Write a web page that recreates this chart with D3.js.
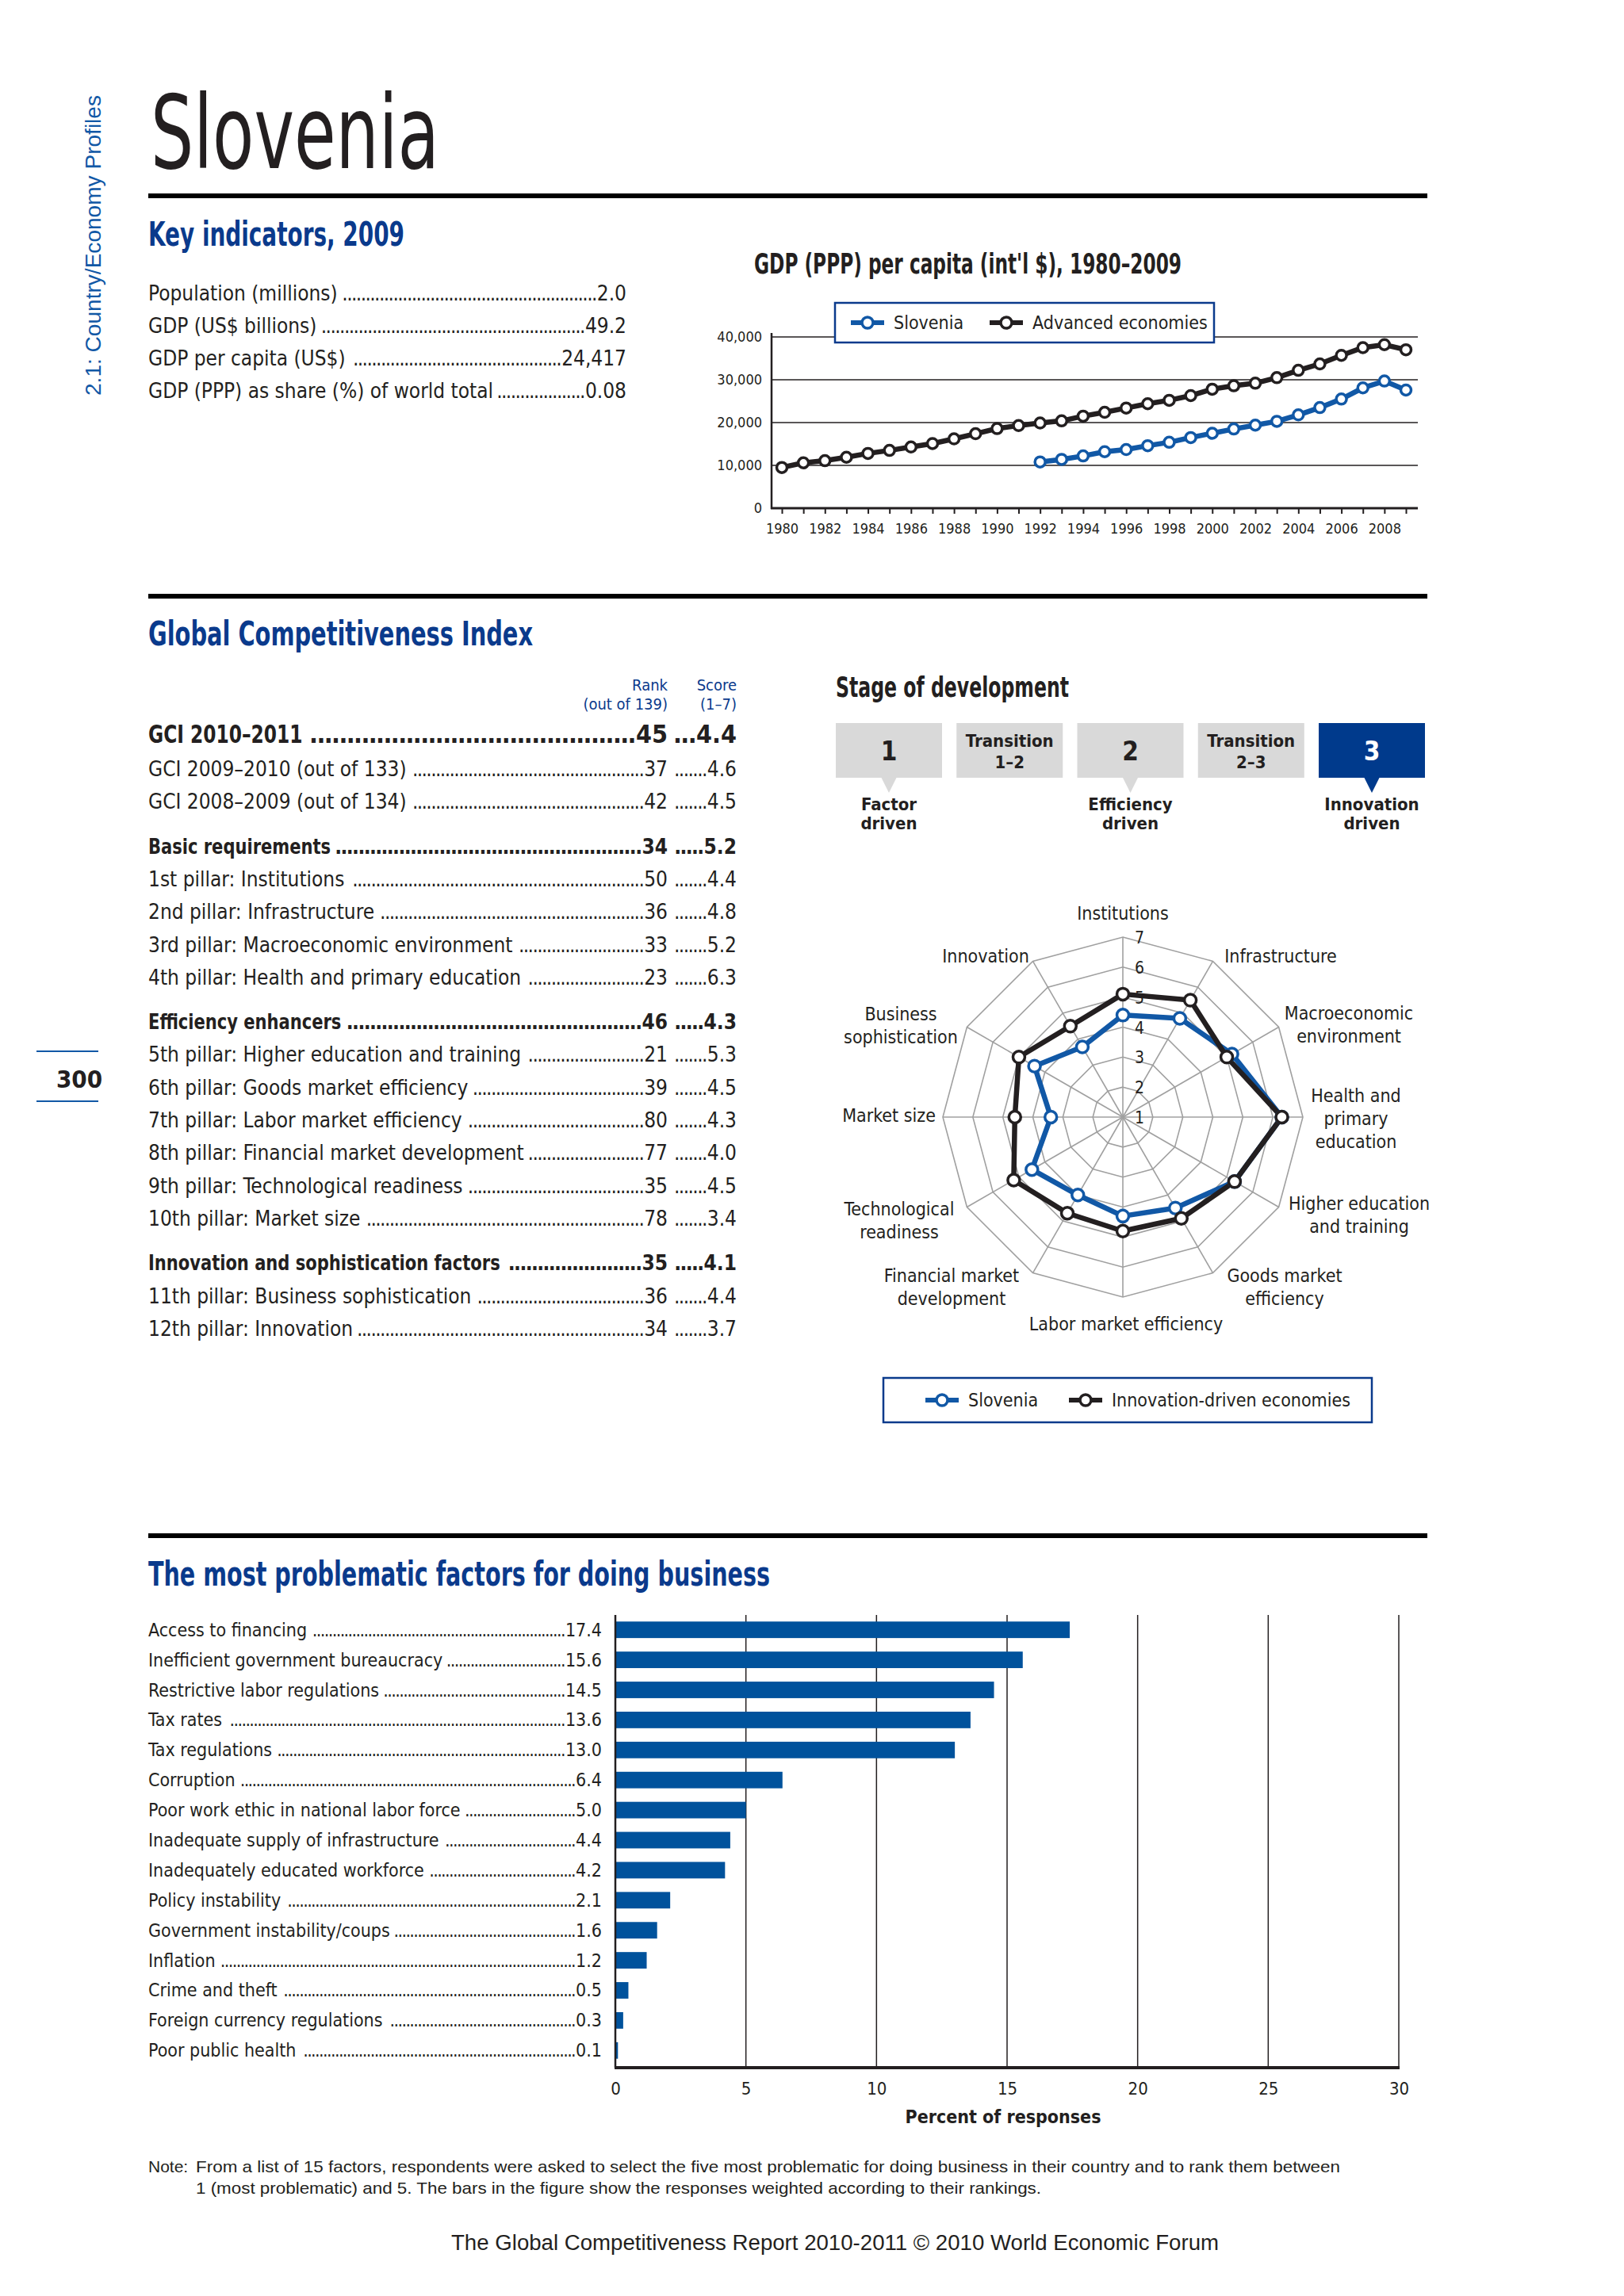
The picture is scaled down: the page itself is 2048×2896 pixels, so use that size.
<!DOCTYPE html>
<html>
<head>
<meta charset="utf-8">
<script src="https://cdn.jsdelivr.net/npm/d3@7"></script>
<style>
  body { margin: 0; background: #fff; }
  svg text { font-family: "Liberation Sans Narrow", "Arial Narrow", "DejaVu Sans Condensed", sans-serif; }
</style>
</head>
<body>
<svg id="page"></svg>
<script>
// ---- Key indicators ----
const keyLabels = ["Population (millions)", "GDP (US$ billions)", "GDP per capita (US$)", "GDP (PPP) as share (%) of world total"];
const keyValues = ["2.0", "49.2", "24,417", "0.08"];

// ---- GDP (PPP) per capita ----
const gdpYears = [1980, 1981, 1982, 1983, 1984, 1985, 1986, 1987, 1988, 1989,
                  1990, 1991, 1992, 1993, 1994, 1995, 1996, 1997, 1998, 1999,
                  2000, 2001, 2002, 2003, 2004, 2005, 2006, 2007, 2008, 2009];
const advancedGdp = [9500, 10600, 11100, 11900, 12800, 13500, 14300, 15100, 16200, 17400,
                     18600, 19300, 19900, 20400, 21500, 22400, 23400, 24400, 25200, 26300,
                     27800, 28600, 29200, 30500, 32200, 33700, 35700, 37500, 38200, 37000];
const sloveniaYears = [1992, 1993, 1994, 1995, 1996, 1997, 1998, 1999, 2000,
                       2001, 2002, 2003, 2004, 2005, 2006, 2007, 2008, 2009];
const sloveniaGdp = [10800, 11400, 12200, 13200, 13700, 14600, 15400, 16500, 17500,
                     18500, 19400, 20300, 21800, 23500, 25500, 28100, 29700, 27600];
const gdpTicks = [0, 10000, 20000, 30000, 40000];
const gdpSeries = ["Slovenia", "Advanced economies"];

// ---- GCI table ----
const gciLabels = ["GCI 2010–2011", "GCI 2009–2010 (out of 133)", "GCI 2008–2009 (out of 134)",
  "Basic requirements", "1st pillar: Institutions", "2nd pillar: Infrastructure",
  "3rd pillar: Macroeconomic environment", "4th pillar: Health and primary education",
  "Efficiency enhancers", "5th pillar: Higher education and training", "6th pillar: Goods market efficiency",
  "7th pillar: Labor market efficiency", "8th pillar: Financial market development",
  "9th pillar: Technological readiness", "10th pillar: Market size",
  "Innovation and sophistication factors", "11th pillar: Business sophistication", "12th pillar: Innovation"];
const gciRanks = ["45", "37", "42", "34", "50", "36", "33", "23", "46", "21", "39", "80", "77", "35", "78", "35", "36", "34"];
const gciScores = ["4.4", "4.6", "4.5", "5.2", "4.4", "4.8", "5.2", "6.3", "4.3", "5.3", "4.5", "4.3", "4.0", "4.5", "3.4", "4.1", "4.4", "3.7"];
const gciSummaryRows = [0, 3, 8, 15];

// ---- Stage of development ----
const stageBoxes = [["1"], ["Transition", "1–2"], ["2"], ["Transition", "2–3"], ["3"]];
const stageNames = [["Factor", "driven"], [], ["Efficiency", "driven"], [], ["Innovation", "driven"]];
const currentStage = 4;

// ---- Radar ----
const pillars = [["Institutions"], ["Infrastructure"], ["Macroeconomic", "environment"],
  ["Health and", "primary", "education"], ["Higher education", "and training"], ["Goods market", "efficiency"],
  ["Labor market efficiency"], ["Financial market", "development"], ["Technological", "readiness"],
  ["Market size"], ["Business", "sophistication"], ["Innovation"]];
const sloveniaScores = [4.4, 4.8, 5.2, 6.3, 5.3, 4.5, 4.3, 4.0, 4.5, 3.4, 4.4, 3.7];
const innovationScores = [5.1, 5.5, 5.0, 6.3, 5.3, 4.9, 4.8, 4.7, 5.2, 4.6, 5.0, 4.5];
const radarTicks = [1, 2, 3, 4, 5, 6, 7];
const radarSeries = ["Slovenia", "Innovation-driven economies"];

// ---- Most problematic factors ----
const factorLabels = ["Access to financing", "Inefficient government bureaucracy", "Restrictive labor regulations",
  "Tax rates", "Tax regulations", "Corruption", "Poor work ethic in national labor force",
  "Inadequate supply of infrastructure", "Inadequately educated workforce", "Policy instability",
  "Government instability/coups", "Inflation", "Crime and theft", "Foreign currency regulations", "Poor public health"];
const factorValues = [17.4, 15.6, 14.5, 13.6, 13.0, 6.4, 5.0, 4.4, 4.2, 2.1, 1.6, 1.2, 0.5, 0.3, 0.1];
const barTicks = [0, 5, 10, 15, 20, 25, 30];

// ---------------------------------------------------------------
const ink = "#231f20", headBlue = "#0a3a8c", lineBlue = "#1158a6", barBlue = "#00529c";
const WIDE = '"Liberation Sans", Arial, sans-serif';

const svg = d3.select("#page").attr("width", 2048).attr("height", 2896);
svg.append("rect").attr("width", 2048).attr("height", 2896).attr("fill", "#fff");

function text(g, x, y, s, o = {}) {
  const t = g.append("text").attr("x", x).attr("y", y).text(s)
    .attr("font-size", o.size || 26).attr("fill", o.fill || ink)
    .attr("font-weight", o.weight || "normal").attr("text-anchor", o.anchor || "start");
  if (o.family) t.style("font-family", o.family);
  if (o.len) t.attr("textLength", o.len).attr("lengthAdjust", "spacingAndGlyphs");
  return t;
}

// label ..... value, dots filling the gap
function leader(g, x0, x1, y, label, value, o = {}) {
  const row = g.append("g").attr("font-size", o.size || 26).attr("font-weight", o.weight || "normal").attr("fill", ink);
  let lw = 0;
  if (label) {
    const sq = o.squeeze || 1;
    const lab = row.append("text").attr("transform", `translate(${x0},${y}) scale(${sq},1)`).text(label);
    lw = lab.node().getComputedTextLength() * sq;
  }
  const val = row.append("text").attr("x", x1).attr("y", y).attr("text-anchor", "end").text(value);
  const dots = row.append("text").attr("y", y).attr("text-anchor", "end").attr("letter-spacing", -1.6).text("..");
  const dw = dots.node().getComputedTextLength() / 2;
  const start = x0 + (label ? lw + 4 : 0);
  const end = x1 - val.node().getComputedTextLength() - 1;
  dots.attr("x", end).text(".".repeat(Math.max(0, Math.floor((end - start) / dw))));
}

// ---- page furniture ----
text(svg, 127, 499, "2.1: Country/Economy Profiles", {size: 27, fill: lineBlue, family: WIDE, len: 379})
  .attr("transform", "rotate(-90,127,499)");
text(svg, 190, 212, "Slovenia", {size: 128, len: 364});
[247, 752, 1937].forEach(y => svg.append("rect").attr("x", 187).attr("y", y - 3).attr("width", 1613).attr("height", 6).attr("fill", "#000"));
[1326, 1389].forEach(y => svg.append("line").attr("x1", 46).attr("x2", 124).attr("y1", y).attr("y2", y).attr("stroke", lineBlue).attr("stroke-width", 2));
text(svg, 100, 1372, "300", {size: 31, weight: "bold", anchor: "middle"});

// ---- Key indicators ----
text(svg, 187, 310, "Key indicators, 2009", {size: 42, weight: "bold", fill: headBlue, len: 323});
keyLabels.forEach((l, i) => leader(svg, 187, 790, 379 + i * 41, l, keyValues[i], {size: 26}));

// ---- GDP chart ----
text(svg, 951, 345, "GDP (PPP) per capita (int'l $), 1980–2009", {size: 36, weight: "bold", len: 539});
const gx = d3.scaleLinear().domain([1980, 2009]).range([986, 1773]);
const gy = d3.scaleLinear().domain([0, 40000]).range([641, 425]);
const gdp = svg.append("g");
gdp.selectAll("line.grid").data(gdpTicks.slice(1)).join("line").attr("class", "grid")
  .attr("x1", 973).attr("x2", 1788).attr("y1", d => gy(d)).attr("y2", d => gy(d))
  .attr("stroke", ink).attr("stroke-width", 1.5);
const yAx = gdp.append("g").attr("transform", "translate(973,0)")
  .call(d3.axisLeft(gy).tickValues(gdpTicks).tickSize(0).tickPadding(12).tickFormat(d3.format(",")));
yAx.select(".domain").remove();
yAx.selectAll("text").attr("font-size", 18).attr("fill", ink);
const xAx = gdp.append("g").attr("transform", "translate(0,641)")
  .call(d3.axisBottom(gx).tickValues(gdpYears).tickSize(7).tickPadding(12).tickFormat(d => d % 2 === 0 ? d : ""));
xAx.select(".domain").remove();
xAx.selectAll("line").attr("stroke", ink).attr("stroke-width", 2);
xAx.selectAll("text").attr("font-size", 18).attr("fill", ink);
gdp.append("line").attr("x1", 973).attr("x2", 973).attr("y1", 642).attr("y2", 420).attr("stroke", ink).attr("stroke-width", 2.5);
gdp.append("line").attr("x1", 972).attr("x2", 1788).attr("y1", 641).attr("y2", 641).attr("stroke", ink).attr("stroke-width", 3);

const gdpLine = d3.line().x(d => gx(d[0])).y(d => gy(d[1]));
const gdpData = [
  {name: gdpSeries[0], color: lineBlue, pts: sloveniaYears.map((y, i) => [y, sloveniaGdp[i]])},
  {name: gdpSeries[1], color: ink, pts: gdpYears.map((y, i) => [y, advancedGdp[i]])}
];
gdpData.forEach(s => {
  gdp.append("path").attr("d", gdpLine(s.pts)).attr("fill", "none").attr("stroke", s.color).attr("stroke-width", 6.5);
  gdp.selectAll(null).data(s.pts).join("circle")
    .attr("cx", d => gx(d[0])).attr("cy", d => gy(d[1])).attr("r", 6.5)
    .attr("fill", "#fff").attr("stroke", s.color).attr("stroke-width", 3.5);
});

function legendItem(g, x, y, color, label, size) {
  g.append("line").attr("x1", x).attr("x2", x + 42).attr("y1", y).attr("y2", y).attr("stroke", color).attr("stroke-width", 6);
  g.append("circle").attr("cx", x + 21).attr("cy", y).attr("r", 7).attr("fill", "#fff").attr("stroke", color).attr("stroke-width", 3.5);
  text(g, x + 54, y + 8, label, {size: size});
}
const gLeg = svg.append("g");
gLeg.append("rect").attr("x", 1053).attr("y", 382).attr("width", 478).attr("height", 50)
  .attr("fill", "#fff").attr("stroke", headBlue).attr("stroke-width", 2.5);
legendItem(gLeg, 1073, 407, lineBlue, gdpSeries[0], 23);
legendItem(gLeg, 1248, 407, ink, gdpSeries[1], 23);

// ---- GCI table ----
text(svg, 187, 814, "Global Competitiveness Index", {size: 42, weight: "bold", fill: headBlue, len: 485});
text(svg, 842, 871, "Rank", {size: 20, fill: headBlue, anchor: "end"});
text(svg, 842, 895, "(out of 139)", {size: 20, fill: headBlue, anchor: "end"});
text(svg, 929, 871, "Score", {size: 20, fill: headBlue, anchor: "end"});
text(svg, 929, 895, "(1–7)", {size: 20, fill: headBlue, anchor: "end"});
gciLabels.forEach((l, i) => {
  const gap = gciSummaryRows.filter(r => r > 0 && r <= i).length;
  const y = i === 0 ? 937 : 979 + (i - 1) * 41.3 + gap * 15;
  const bold = gciSummaryRows.includes(i);
  const size = i === 0 ? 32 : 26;
  const opt = {size: size, weight: bold ? "bold" : "normal", squeeze: i === 0 ? 0.81 : (bold ? 0.9 : 1)};
  leader(svg, 187, 842, y, l, gciRanks[i], opt);
  leader(svg, 846, 929, y, "", gciScores[i], opt);
});

// ---- Stage of development ----
text(svg, 1054, 879, "Stage of development", {size: 36, weight: "bold", len: 294});
const sx = d3.scaleBand().domain(d3.range(stageBoxes.length)).range([1054, 1797]).paddingInner(0.12);
const stage = svg.append("g");
stageBoxes.forEach((lines, i) => {
  const x = sx(i), w = sx.bandwidth(), cxs = x + w / 2;
  const fill = i === currentStage ? "#003a8c" : "#d9d9d9";
  stage.append("rect").attr("x", x).attr("y", 912).attr("width", w).attr("height", 69).attr("fill", fill);
  if (stageNames[i].length) {
    stage.append("path").attr("d", `M${cxs - 10},980 L${cxs + 10},980 L${cxs},1000 Z`).attr("fill", fill);
    stageNames[i].forEach((s, k) => text(stage, cxs, 1022 + k * 24, s, {size: 22, weight: "bold", anchor: "middle"}));
  }
  const tc = i === currentStage ? "#fff" : ink;
  if (lines.length === 1) text(stage, cxs, 959, lines[0], {size: 33, weight: "bold", anchor: "middle", fill: tc});
  else lines.forEach((s, k) => text(stage, cxs, 942 + k * 27, s, {size: 22, weight: "bold", anchor: "middle", fill: tc}));
});

// ---- Radar ----
const cx = 1416, cy = 1409;
const rr = d3.scaleLinear().domain([1, 7]).range([0, 227]);
const ang = d3.scaleLinear().domain([0, pillars.length]).range([0, 2 * Math.PI]);
const radar = svg.append("g").attr("transform", `translate(${cx},${cy})`);
const ring = v => d3.lineRadial().angle((d, i) => ang(i)).radius(rr(v)).curve(d3.curveLinearClosed)(pillars);
radar.selectAll("path.ring").data(radarTicks.slice(1)).join("path").attr("class", "ring")
  .attr("d", ring).attr("fill", "none").attr("stroke", "#a0a0a0").attr("stroke-width", 1.6);
radar.selectAll("line.spoke").data(pillars).join("line").attr("class", "spoke")
  .attr("x1", 0).attr("y1", 0)
  .attr("x2", (d, i) => rr(7) * Math.sin(ang(i))).attr("y2", (d, i) => -rr(7) * Math.cos(ang(i)))
  .attr("stroke", "#a0a0a0").attr("stroke-width", 1.6);
radarTicks.forEach(v => text(radar, 15, -rr(v) + 8, v, {size: 21}));

// label block centres relative to the radar centre
const labelOffsets = [[0, -257], [199, -203], [285, -117], [294, 2], [298, 123], [204, 214],
  [4, 261], [-216, 214], [-282, 130], [-295, -2], [-280, -116], [-173, -203]];
pillars.forEach((lines, i) => {
  const [dx, dy] = labelOffsets[i];
  lines.forEach((s, k) => text(radar, dx, dy + (k - (lines.length - 1) / 2) * 29 + 8, s, {size: 23, anchor: "middle"}));
});

const radarData = [
  {name: radarSeries[0], color: lineBlue, vals: sloveniaScores},
  {name: radarSeries[1], color: ink, vals: innovationScores}
];
const rLine = d3.lineRadial().angle((d, i) => ang(i)).radius(d => rr(d)).curve(d3.curveLinearClosed);
radarData.forEach(s => radar.append("path").attr("d", rLine(s.vals)).attr("fill", "none")
  .attr("stroke", s.color).attr("stroke-width", 6.5).attr("stroke-linejoin", "round"));
radarData.forEach(s => radar.selectAll(null).data(s.vals).join("circle")
  .attr("cx", (d, i) => rr(d) * Math.sin(ang(i))).attr("cy", (d, i) => -rr(d) * Math.cos(ang(i)))
  .attr("r", 7.5).attr("fill", "#fff").attr("stroke", s.color).attr("stroke-width", 3.5));

const rLeg = svg.append("g");
rLeg.append("rect").attr("x", 1114).attr("y", 1738).attr("width", 616).attr("height", 56)
  .attr("fill", "#fff").attr("stroke", headBlue).attr("stroke-width", 2.5);
legendItem(rLeg, 1167, 1766, lineBlue, radarSeries[0], 23);
legendItem(rLeg, 1348, 1766, ink, radarSeries[1], 23);

// ---- Most problematic factors ----
text(svg, 187, 2000, "The most problematic factors for doing business", {size: 42, weight: "bold", fill: headBlue, len: 784});
const bx = d3.scaleLinear().domain([0, 30]).range([776, 1764]);
const by = d3.scaleBand().domain(factorLabels).range([2036, 2606]).paddingInner(0.45).paddingOuter(0.245);
const bars = svg.append("g");
bars.selectAll("line.vgrid").data(barTicks.slice(1)).join("line").attr("class", "vgrid")
  .attr("x1", d => bx(d)).attr("x2", d => bx(d)).attr("y1", 2037).attr("y2", 2608)
  .attr("stroke", ink).attr("stroke-width", 1.5);
bars.selectAll("rect.bar").data(factorValues).join("rect").attr("class", "bar")
  .attr("x", bx(0)).attr("y", (d, i) => by(factorLabels[i]))
  .attr("width", d => bx(d) - bx(0)).attr("height", by.bandwidth()).attr("fill", barBlue);
bars.append("line").attr("x1", bx(0)).attr("x2", bx(0)).attr("y1", 2037).attr("y2", 2608).attr("stroke", ink).attr("stroke-width", 2.5);
bars.append("line").attr("x1", bx(0) - 1).attr("x2", bx(30) + 1).attr("y1", 2608).attr("y2", 2608).attr("stroke", ink).attr("stroke-width", 4);
const bAx = bars.append("g").attr("transform", "translate(0,2610)")
  .call(d3.axisBottom(bx).tickValues(barTicks).tickSize(0).tickPadding(16));
bAx.select(".domain").remove();
bAx.selectAll("text").attr("font-size", 22).attr("fill", ink);
text(svg, 1265, 2678, "Percent of responses", {size: 23, weight: "bold", anchor: "middle"});
factorLabels.forEach((l, i) => leader(svg, 187, 759, by(l) + by.bandwidth() / 2 + 8, l, factorValues[i].toFixed(1), {size: 23}));

// ---- Note and footer ----
text(svg, 187, 2740, "Note:", {size: 21, family: WIDE});
text(svg, 247, 2740, "From a list of 15 factors, respondents were asked to select the five most problematic for doing business in their country and to rank them between", {size: 21, family: WIDE, len: 1443});
text(svg, 247, 2767, "1 (most problematic) and 5. The bars in the figure show the responses weighted according to their rankings.", {size: 21, family: WIDE, len: 1066});
text(svg, 1053, 2838, "The Global Competitiveness Report 2010-2011 © 2010 World Economic Forum", {size: 27, family: WIDE, anchor: "middle", len: 968});
</script>
</body>
</html>
